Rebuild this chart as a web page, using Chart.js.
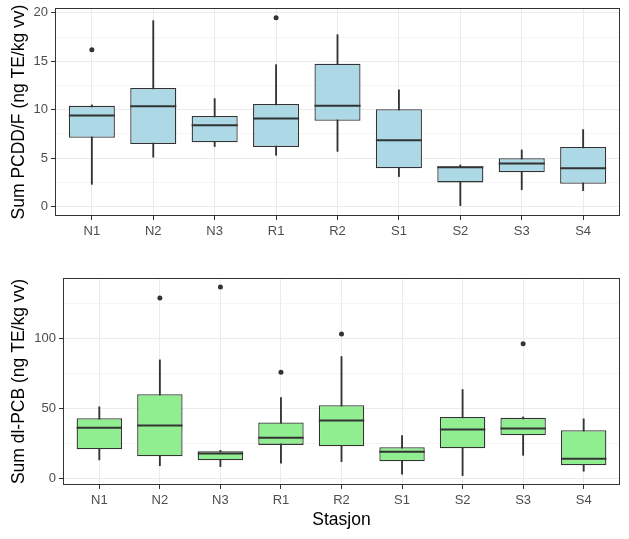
<!DOCTYPE html>
<html>
<head>
<meta charset="utf-8">
<script src="https://cdn.jsdelivr.net/npm/chart.js@4/dist/chart.umd.min.js"></script>
<style>
  body { margin: 0; background: #fff; }
  canvas { position: absolute; left: 0; }
</style>
</head>
<body>
<canvas id="top" width="629" height="250" style="top:0"></canvas>
<canvas id="bottom" width="629" height="277" style="top:262px"></canvas>
<script>
const stations = ['N1', 'N2', 'N3', 'R1', 'R2', 'S1', 'S2', 'S3', 'S4'];

// Sum PCDD/F (ng TE/kg vv)
const pcddLow = [2.3, 5.1, 6.2, 5.3, 5.7, 3.1, 0.1, 1.75, 1.65];
const pcddQ1 = [7.1, 6.45, 6.65, 6.15, 8.85, 3.95, 2.5, 3.55, 2.35];
const pcddMedian = [9.4, 10.35, 8.4, 9.1, 10.4, 6.85, 4.05, 4.45, 3.95];
const pcddQ3 = [10.4, 12.25, 9.35, 10.6, 14.75, 10.05, 4.15, 5.0, 6.15];
const pcddHigh = [10.5, 19.2, 11.15, 14.65, 17.75, 12.05, 4.3, 5.85, 7.95];
const pcddOutliers = [['N1', 16.2], ['R1', 19.5]];
const pcddTicks = [0, 5, 10, 15, 20];

// Sum dl-PCB (ng TE/kg vv)
const pcbLow = [13.1, 9, 8.3, 10.7, 11.9, 2.9, 1.9, 16.4, 5];
const pcbQ1 = [20.7, 15.7, 12.9, 23.8, 22.9, 12.1, 21.4, 30.7, 9.3];
const pcbMedian = [36, 37.6, 17.6, 29, 41.2, 19, 34.8, 35.5, 14];
const pcbQ3 = [42.9, 60, 19.3, 39.8, 52.1, 22.1, 43.8, 43.1, 34.3];
const pcbHigh = [51, 84.5, 20, 57.6, 86.9, 30.5, 63.3, 43.8, 42.4];
const pcbOutliers = [['N2', 128.6], ['N3', 136.4], ['R1', 75.7], ['R2', 102.9], ['S3', 96]];
const pcbTicks = [0, 50, 100];

const ink = '#333333';
const tickFont = { family: 'Liberation Sans', size: 13 };
const titleFont = { family: 'Liberation Sans', size: 17.5 };

const framePlugin = {
    id: 'frame',
    afterDatasetsDraw(chart) {
        const { ctx, chartArea: a } = chart;
        ctx.save();
        ctx.strokeStyle = ink;
        ctx.lineWidth = 1;
        ctx.strokeRect(Math.round(a.left) + 0.5, Math.round(a.top) + 0.5,
            Math.round(a.right - a.left) - 1, Math.round(a.bottom - a.top) - 1);
        ctx.restore();
    }
};

function boxChart(id, s) {
    const step = s.ticks[1] - s.ticks[0];
    const yTicks = [];
    for (let v = s.ticks[0]; v <= s.max; v += step / 2) yTicks.push(v);
    const halfBox = (c) => {
        const x = c.chart.scales.x;
        return x.getPixelForValue(1.375) - x.getPixelForValue(1);
    };

    new Chart(document.getElementById(id), {
        type: 'bar',
        data: {
            datasets: [
                {
                    type: 'scatter',
                    data: s.median.map((v, i) => ({ x: i + 1, y: v })),
                    pointStyle: 'line', radius: halfBox,
                    borderColor: ink, borderWidth: 2, order: 0
                },
                {
                    type: 'scatter',
                    data: s.outliers.map(o => ({ x: stations.indexOf(o[0]) + 1, y: o[1] })),
                    pointStyle: 'circle', radius: 2.5,
                    backgroundColor: ink, borderWidth: 0, order: 1
                },
                {
                    data: s.q1.map((v, i) => ({ x: i + 1, y: [v, s.q3[i]] })),
                    backgroundColor: s.fill, borderColor: ink, borderWidth: 1.3,
                    borderSkipped: false, grouped: false,
                    barPercentage: 0.75, categoryPercentage: 1, order: 2
                },
                {
                    data: s.low.map((v, i) => ({ x: i + 1, y: [v, s.high[i]] })),
                    backgroundColor: ink, barThickness: 1.2, grouped: false, order: 3
                }
            ]
        },
        options: {
            responsive: false,
            animation: false,
            events: [],
            layout: { padding: { top: s.padTop, right: 9, left: 0, bottom: 0 } },
            plugins: { legend: { display: false }, tooltip: { enabled: false } },
            scales: {
                x: {
                    type: 'linear', min: 0.4, max: 9.6, offset: false,
                    afterBuildTicks: (sc) => { sc.ticks = stations.map((_, i) => ({ value: i + 1 })); },
                    afterFit: (sc) => { sc.height = s.xHeight; sc.paddingLeft = 0; sc.paddingRight = 0; },
                    ticks: {
                        callback: (v) => stations[v - 1], autoSkip: false, maxRotation: 0,
                        color: '#4D4D4D', font: tickFont, padding: 4
                    },
                    grid: { offset: false, color: '#EBEBEB', lineWidth: 1, tickColor: ink, tickLength: 4, tickWidth: 1 },
                    border: { display: false },
                    title: {
                        display: !!s.xTitle, text: s.xTitle, color: '#000', font: titleFont,
                        padding: { top: 0, bottom: 8 }
                    }
                },
                y: {
                    min: s.min, max: s.max,
                    afterBuildTicks: (sc) => { sc.ticks = yTicks.map(v => ({ value: v })); },
                    afterFit: (sc) => { sc.width = s.yWidth; sc.paddingTop = 0; sc.paddingBottom = 0; },
                    ticks: {
                        callback: (v) => (s.ticks.includes(v) ? v : ''),
                        color: '#4D4D4D', font: tickFont, padding: 3
                    },
                    grid: {
                        color: '#EBEBEB',
                        lineWidth: (c) => (s.ticks.includes(c.tick.value) ? 1 : 0.5),
                        tickColor: (c) => (s.ticks.includes(c.tick.value) ? ink : 'rgba(0,0,0,0)'),
                        tickLength: 4, tickWidth: 1
                    },
                    border: { display: false },
                    title: {
                        display: true, text: s.yTitle, color: '#000', font: titleFont,
                        padding: { top: 8.5, bottom: 0 }
                    }
                }
            }
        },
        plugins: [framePlugin]
    });
}

boxChart('top', {
    low: pcddLow, q1: pcddQ1, median: pcddMedian, q3: pcddQ3, high: pcddHigh,
    outliers: pcddOutliers, ticks: pcddTicks, min: -0.97, max: 20.5,
    fill: '#ADD8E6', yTitle: 'Sum PCDD/F (ng TE/kg vv)', xTitle: '',
    yWidth: 55, xHeight: 34, padTop: 8
});

boxChart('bottom', {
    low: pcbLow, q1: pcbQ1, median: pcbMedian, q3: pcbQ3, high: pcbHigh,
    outliers: pcbOutliers, ticks: pcbTicks, min: -4.8, max: 142.9,
    fill: '#90EE90', yTitle: 'Sum dl-PCB (ng TE/kg vv)', xTitle: 'Stasjon',
    yWidth: 63, xHeight: 54, padTop: 16
});
</script>
</body>
</html>
